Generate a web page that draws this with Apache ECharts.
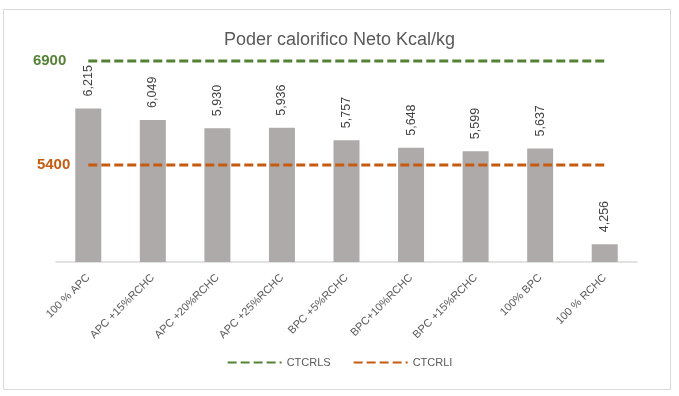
<!DOCTYPE html>
<html><head><meta charset="utf-8">
<script src="https://cdn.jsdelivr.net/npm/echarts@6/dist/echarts.min.js"></script>
<style>html,body{margin:0;padding:0;background:#fff}#c{width:679px;height:396px}</style>
</head><body><div id="c"></div>
<script>
const categories = ["100 % APC","APC +15%RCHC","APC +20%RCHC","APC +25%RCHC","BPC +5%RCHC","BPC+10%RCHC","BPC +15%RCHC","100% BPC","100 % RCHC"];
const poderValues = [6215,6049,5930,5936,5757,5648,5599,5637,4256];
const ctcrlsValues = [6900,6900,6900,6900,6900,6900,6900,6900,6900];
const ctcrliValues = [5400,5400,5400,5400,5400,5400,5400,5400,5400];
const fontFam = '"Liberation Sans", "DejaVu Sans", sans-serif';
const chart = echarts.init(document.getElementById('c'));
function limitData(vals, color, dist){
  return vals.map((v,i)=> i===0 ? {value:v, label:{show:true, position:'left', distance:dist, formatter:'{c}', color:color, fontWeight:'bold', fontSize:15, fontFamily:fontFam}} : v);
}
chart.setOption({
  animation:false,
  textStyle:{fontFamily:fontFam},
  title:{text:'Poder calorifico Neto Kcal/kg', left:'center', top:26, textStyle:{fontSize:18, fontWeight:'normal', color:'#595959', fontFamily:fontFam}},
  graphic:[{type:'rect', shape:{x:3.5,y:9.5,width:667,height:380}, style:{fill:'none', stroke:'#d9d9d9', lineWidth:1}, z:-1}],
  grid:{left:56, right:42, top:54, bottom:134},
  legend:{bottom:23, left:'center', itemWidth:54, itemHeight:10, itemGap:22, itemStyle:{opacity:0}, textStyle:{color:'#595959', fontSize:11, fontFamily:fontFam}, data:['CTCRLS','CTCRLI']},
  xAxis:{type:'category', data:categories, axisTick:{show:false}, axisLine:{lineStyle:{color:'#d9d9d9', width:1.5}},
    axisLabel:{rotate:45, color:'#595959', fontSize:11, margin:14, interval:0, fontFamily:fontFam}},
  yAxis:{type:'value', min:4000, max:7000, show:false, splitLine:{show:false}},
  series:[
    {name:'Poder', type:'bar', data:poderValues, barWidth:26, itemStyle:{color:'#aeaaaa'},
      label:{show:true, position:'top', rotate:90, align:'left', verticalAlign:'middle', distance:12, color:'#404040', fontSize:12.5, fontFamily:fontFam,
        formatter:p=>p.value.toLocaleString('en-US')}},
    {name:'CTCRLS', type:'line', data:limitData(ctcrlsValues,'#548235',22), symbol:'circle', symbolSize:0.01, showSymbol:true, lineStyle:{color:'#548235', width:3, type:[9,4]}, itemStyle:{color:'#548235'}},
    {name:'CTCRLI', type:'line', data:limitData(ctcrliValues,'#c55a11',18), symbol:'circle', symbolSize:0.01, showSymbol:true, lineStyle:{color:'#c55a11', width:3, type:[9,4]}, itemStyle:{color:'#c55a11'}}
  ]
});
</script></body></html>
